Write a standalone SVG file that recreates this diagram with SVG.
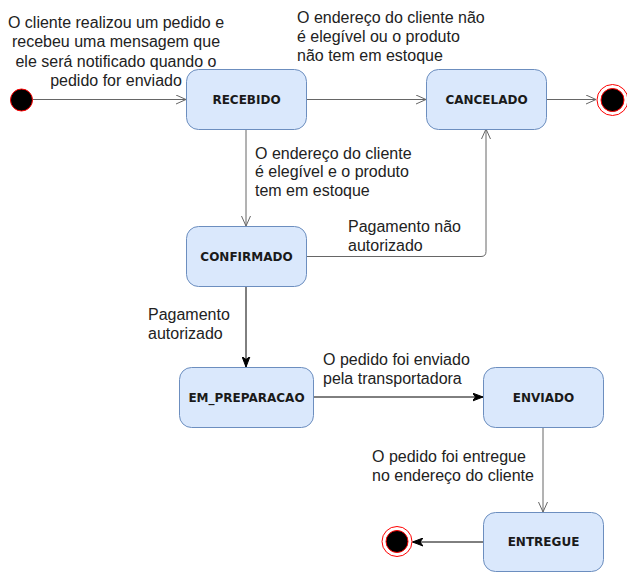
<svg xmlns="http://www.w3.org/2000/svg" width="627" height="572" viewBox="0 0 627 572">
<defs>
<style>
.node rect{fill:#dae8fc;stroke:#6c8ebf;stroke-width:1}
.node text{font-family:"DejaVu Sans",Verdana,sans-serif;font-weight:bold;font-size:12px;fill:#1a1a1a;text-anchor:middle}
.lbl{font-family:"Liberation Sans",Arial,Helvetica,sans-serif;font-size:16px;fill:#222}
.gray{fill:none;stroke:#666;stroke-width:1}
.black{fill:none;stroke:#000;stroke-width:1}
</style>
<marker id="open" viewBox="0 0 12 10" refX="11" refY="5" markerWidth="12" markerHeight="10" markerUnits="userSpaceOnUse" orient="auto">
<path d="M1,0.5 L11,5 L1,9.5" fill="none" stroke="#666" stroke-width="1"/>
</marker>
<marker id="classic" viewBox="0 0 11 9" refX="10.5" refY="4.5" markerWidth="11" markerHeight="9" markerUnits="userSpaceOnUse" orient="auto">
<path d="M0,0.5 L10.5,4.5 L0,8.5 L3,4.5 Z" fill="#000" stroke="#000" stroke-width="1"/>
</marker>
</defs>
<rect width="627" height="572" fill="#fff"/>
<g id="connectors">
<path class="gray" d="M33 99.5 L186 99.5" marker-end="url(#open)"/>
<path class="gray" d="M306 99.5 L426 99.5" marker-end="url(#open)"/>
<path class="gray" d="M546 99.5 L596 99.5" marker-end="url(#open)"/>
<path class="gray" d="M246 129 L246 226" marker-end="url(#open)"/>
<path class="gray" d="M306 256.5 L481 256.5 Q486 256.5 486 251.5 L486 129" marker-end="url(#open)"/>
<path class="black" d="M246 286 L246 367" marker-end="url(#classic)"/>
<path class="black" d="M313 397 L483 397" marker-end="url(#classic)"/>
<path class="gray" d="M543 427 L543 512" marker-end="url(#open)"/>
<path class="black" d="M483 542 L412.5 542" marker-end="url(#classic)"/>
</g>
<g id="start">
<circle cx="21.5" cy="100" r="11" fill="#000" stroke="#ff0000" stroke-width="1"/>
</g>
<g id="end-cancelado">
<circle cx="612.5" cy="100" r="15.5" fill="#fff" stroke="#ff0000" stroke-width="1"/>
<circle cx="612.5" cy="100" r="11.5" fill="#000" stroke="#ff0000" stroke-width="1"/>
</g>
<g id="end-entregue">
<circle cx="397" cy="541.5" r="15" fill="#fff" stroke="#ff0000" stroke-width="1"/>
<circle cx="397" cy="541.5" r="11" fill="#000" stroke="#ff0000" stroke-width="1"/>
</g>
<g id="recebido" class="node">
<rect x="186.5" y="69.5" width="120" height="60" rx="12"/>
<text x="246.5" y="104">RECEBIDO</text>
</g>
<g id="cancelado" class="node">
<rect x="426.5" y="69.5" width="120" height="60" rx="12"/>
<text x="486.5" y="104">CANCELADO</text>
</g>
<g id="confirmado" class="node">
<rect x="186.5" y="226.5" width="120" height="60" rx="12"/>
<text x="246.5" y="261">CONFIRMADO</text>
</g>
<g id="em_preparacao" class="node">
<rect x="179.5" y="367.5" width="134" height="60" rx="12"/>
<text x="246.5" y="402">EM_PREPARACAO</text>
</g>
<g id="enviado" class="node">
<rect x="483.5" y="367.5" width="120" height="60" rx="12"/>
<text x="543.5" y="402">ENVIADO</text>
</g>
<g id="entregue" class="node">
<rect x="483.5" y="512.5" width="120" height="59" rx="12"/>
<text x="543.5" y="546">ENTREGUE</text>
</g>
<g id="labels">
<text class="lbl" text-anchor="middle"><tspan x="116" y="27.5">O cliente realizou um pedido e</tspan><tspan x="116" y="47">recebeu uma mensagem que</tspan><tspan x="116" y="66.5">ele será notificado quando o</tspan><tspan x="116" y="86">pedido for enviado</tspan></text>
<text class="lbl"><tspan x="297" y="23">O endereço do cliente não</tspan><tspan x="297" y="42">é elegível ou o produto</tspan><tspan x="297" y="61">não tem em estoque</tspan></text>
<text class="lbl"><tspan x="255" y="158.5">O endereço do cliente</tspan><tspan x="255" y="177">é elegível e o produto</tspan><tspan x="255" y="195.5">tem em estoque</tspan></text>
<text class="lbl"><tspan x="348" y="232">Pagamento não</tspan><tspan x="348" y="251">autorizado</tspan></text>
<text class="lbl"><tspan x="148" y="320">Pagamento</tspan><tspan x="148" y="339">autorizado</tspan></text>
<text class="lbl"><tspan x="323" y="365">O pedido foi enviado</tspan><tspan x="323" y="384">pela transportadora</tspan></text>
<text class="lbl"><tspan x="372" y="462">O pedido foi entregue</tspan><tspan x="372" y="481">no endereço do cliente</tspan></text>
</g>
</svg>
